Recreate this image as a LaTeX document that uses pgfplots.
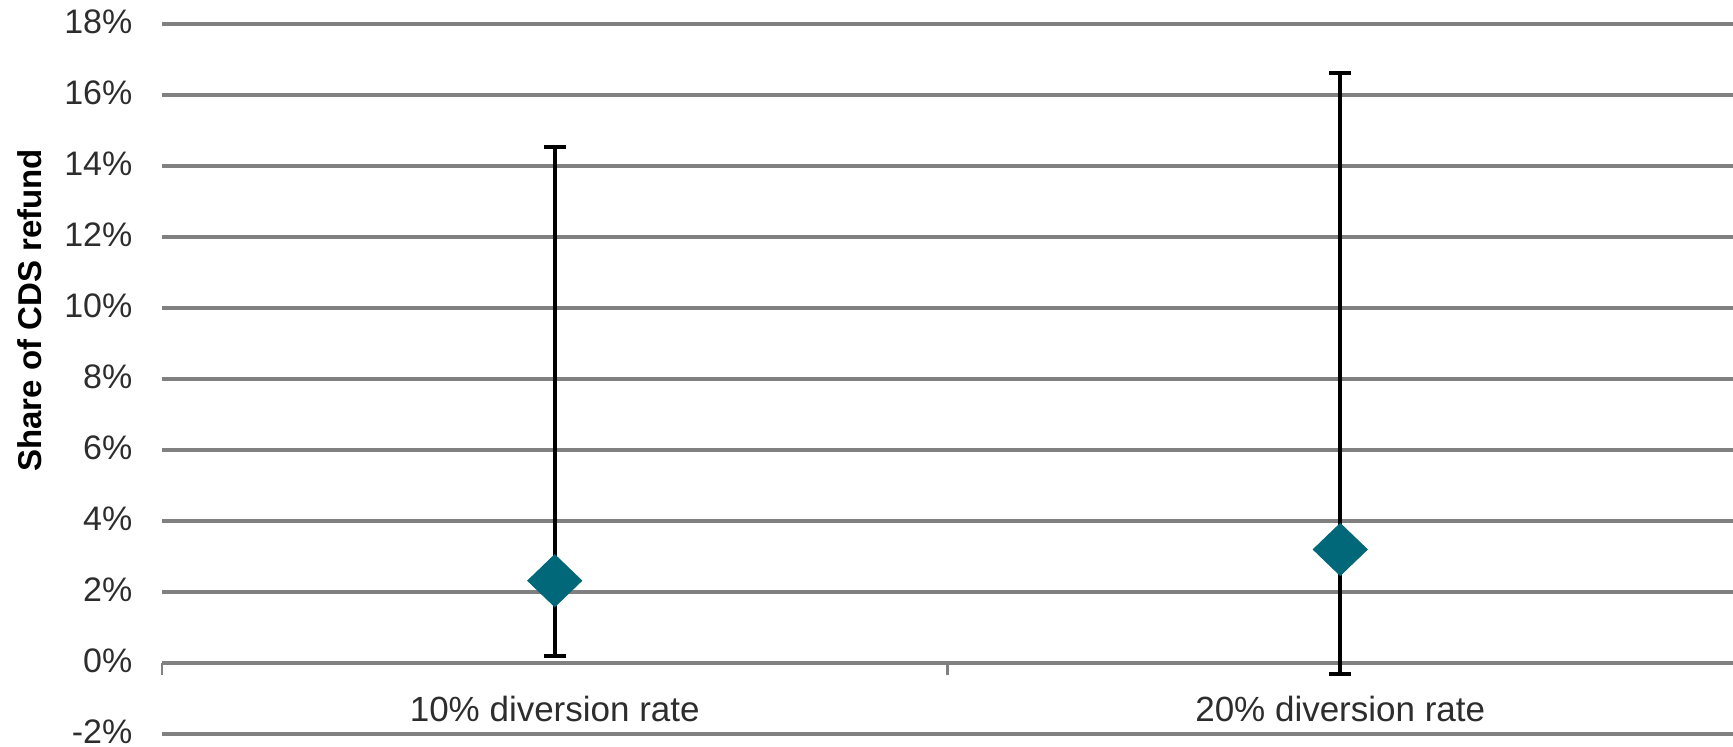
\documentclass[border=0pt]{standalone}
\usepackage{fontspec}
\setmainfont{Liberation Sans}
\usepackage{pgfplots}
\pgfplotsset{compat=1.18}
\definecolor{dcol}{RGB}{0,104,120}
\definecolor{gridgray}{RGB}{128,128,128}
\definecolor{txt}{RGB}{45,45,45}
\begin{document}
\begin{tikzpicture}
\begin{axis}[
  name=ax,
  at={(81pt,6.5pt)}, anchor=south west,
  scale only axis, width=785.5pt, height=354.85pt,
  xmin=0.5, xmax=2.5, ymin=-2, ymax=18,
  clip=false,
  axis x line=middle,
  axis y line=left,
  y axis line style={draw=none},
  x axis line style={draw=gridgray, line width=1.9pt, -},
  ytick={-2,0,2,4,6,8,10,12,14,16,18},
  yticklabels={-2\%,0\%,2\%,4\%,6\%,8\%,10\%,12\%,14\%,16\%,18\%},
  ymajorgrids,
  grid style={draw=gridgray, line width=1.9pt},
  ytick style={draw=none},
  yticklabel style={font=\fontsize{17}{20}\selectfont, text=txt, anchor=east, inner sep=0pt, text depth=0pt, xshift=-12.5pt, yshift=1.3pt},
  xtick={1,2},
  xticklabels={10\% diversion rate, 20\% diversion rate},
  xtick style={draw=none},
  xticklabel style={font=\fontsize{17.5}{20}\selectfont, text=txt, anchor=north, inner sep=0pt, yshift=-14.2pt},
  extra x ticks={0.5,1.5},
  extra x tick labels={},
  extra x tick style={xtick style={draw=gridgray, line width=1.4pt}, major tick length=6pt, tick align=outside},
  ylabel={Share of CDS refund},
  ylabel style={at={(axis description cs:-0.084,0.597)}, anchor=center, rotate=0, font=\bfseries\fontsize{16.5}{18}\selectfont, text=black},
]
\addplot[only marks, mark=square*, mark size=9.2pt,
  mark options={fill=dcol, draw=dcol, xscale=1.04, rotate=45},
  error bars/.cd, y dir=both, y explicit,
  error bar style={line width=2pt, black},
  error mark options={rotate=90, mark size=5.5pt, line width=2pt, black}]
  coordinates {
    (1,2.32) += (0,12.23) -= (0,2.12)
    (2,3.2) += (0,13.42) -= (0,3.5)
  };
\end{axis}
\pgfresetboundingbox
\path[use as bounding box] (0,0) rectangle (866.5pt,373.5pt);
\end{tikzpicture}
\end{document}
